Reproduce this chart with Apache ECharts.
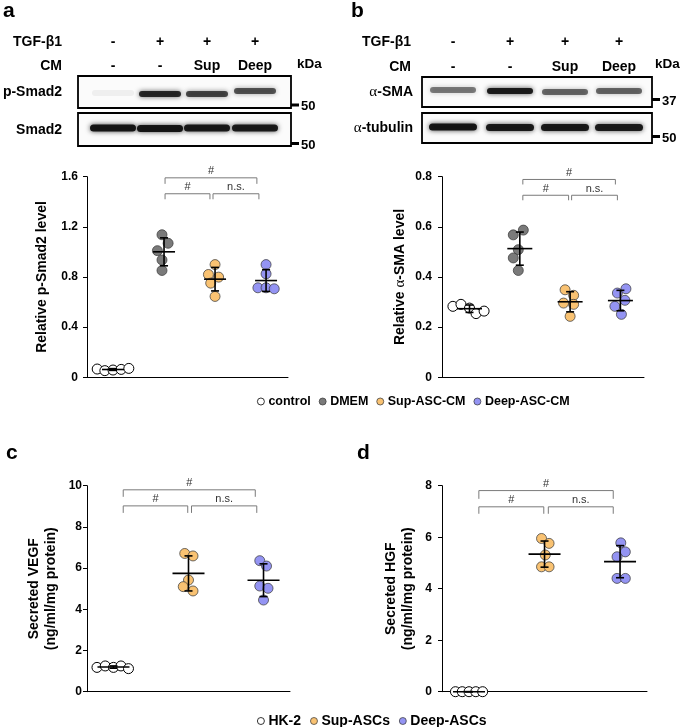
<!DOCTYPE html>
<html><head><meta charset="utf-8">
<script src="https://cdn.jsdelivr.net/npm/echarts@6/dist/echarts.min.js"></script>
<style>html,body{margin:0;padding:0;background:#fff}#c{width:685px;height:727px}</style>
</head><body><div id="c"></div>
<script>
// ---------- data ----------
const groupsAB = ['control', 'DMEM', 'Sup-ASC-CM', 'Deep-ASC-CM'];
const groupsCD = ['HK-2', 'Sup-ASCs', 'Deep-ASCs'];

// panel a: relative p-Smad2 level
const pSmad2Control = [0.066, 0.053, 0.058, 0.063, 0.071];
const pSmad2DMEM    = [1.137, 1.069, 1.010, 0.936, 0.852];
const pSmad2Sup     = [0.899, 0.820, 0.799, 0.751, 0.645];
const pSmad2Deep    = [0.899, 0.825, 0.714, 0.714, 0.706];
// panel b: relative α-SMA level
const sma_Control = [0.283, 0.291, 0.276, 0.254, 0.264];
const sma_DMEM    = [0.568, 0.587, 0.509, 0.476, 0.426];
const sma_Sup     = [0.349, 0.327, 0.296, 0.291, 0.243];
const sma_Deep    = [0.336, 0.353, 0.307, 0.283, 0.251];
// panel c: secreted VEGF
const vegfHK2  = [1.18, 1.25, 1.18, 1.25, 1.12];
const vegfSup  = [6.71, 6.59, 5.42, 5.10, 4.89];
const vegfDeep = [6.36, 6.10, 5.13, 5.02, 4.45];
// panel d: secreted HGF
const hgfHK2  = [0, 0, 0, 0, 0];
const hgfSup  = [5.95, 5.76, 5.31, 4.85, 4.85];
const hgfDeep = [5.78, 5.43, 5.24, 4.40, 4.40];

// horizontal jitter of each dot inside its group (category units)
const jitA = [[-0.31, -0.16, 0, 0.16, 0.31], [-0.04, 0.08, -0.13, -0.04, -0.04], [0, -0.13, 0.07, -0.085, 0], [0, 0, -0.16, 0, 0.16]];
const jitB = [[-0.33, -0.17, 0, 0.13, 0.29], [-0.13, 0.07, -0.03, -0.13, -0.03], [-0.1, 0.07, -0.13, 0.07, 0], [-0.06, 0.11, 0.09, -0.11, 0.02]];
const jitC = [[-0.22, -0.11, 0, 0.1, 0.2], [-0.05, 0.06, 0, -0.07, 0.06], [-0.05, 0.04, -0.05, 0.06, 0]];
const jitD = [[-0.18, -0.09, 0, 0.09, 0.18], [-0.04, 0.06, 0.01, -0.04, 0.06], [0.01, 0.07, -0.04, -0.04, 0.07]];

// y tick labels
const ticksA = [0, 0.4, 0.8, 1.2, 1.6];
const ticksB = [0, 0.2, 0.4, 0.6, 0.8];
const ticksC = [0, 2, 4, 6, 8, 10];
const ticksD = [0, 2, 4, 6, 8];

// significance brackets: [x from, x to, y bar, y end of legs]
const bracketsA = [[2.02, 3.82, 1.591, 1.543], [2.02, 2.90, 1.464, 1.420], [2.96, 3.86, 1.464, 1.420]];
const bracketsB = [[2.06, 3.90, 0.789, 0.769], [2.06, 2.97, 0.726, 0.706], [3.03, 3.94, 0.726, 0.706]];
const bracketsC = [[1.13, 2.89, 9.80, 9.46], [1.13, 1.99, 9.02, 8.68], [2.04, 2.91, 9.02, 8.68]];
const bracketsD = [[1.13, 2.91, 7.81, 7.49], [1.13, 1.99, 7.18, 6.91], [2.05, 2.91, 7.18, 6.91]];
const bracketLabels = ['#', '#', 'n.s.'];

// western blot band intensities (lanes 1-4)
const blotPSmad2 = [0.05, 0.85, 0.72, 0.66];
const blotSmad2  = [0.95, 0.95, 0.93, 0.92];
const blotSMA    = [0.5, 0.92, 0.58, 0.58];
const blotTub    = [0.95, 0.93, 0.93, 0.92];
const blotTGF = ['-', '+', '+', '+'];
const blotCM  = ['-', '-', 'Sup', 'Deep'];

// ---------- styles ----------
const FONT = 'Liberation Sans, Arial, sans-serif';
const SERIF = 'Liberation Serif, DejaVu Serif, serif';
const colorsAB = ['#ffffff', '#6f6f6f', '#f9bd66', '#8b8bf2'];
const colorsCD = ['#ffffff', '#f9bd66', '#8b8bf2'];

const chart = echarts.init(document.getElementById('c'), null, {renderer: 'canvas'});

function mean(a) { return a.reduce((s, v) => s + v, 0) / a.length; }
function sd(a) { const m = mean(a); return Math.sqrt(a.reduce((s, v) => s + (v - m) * (v - m), 0) / (a.length - 1)); }

const panels = [
  {grid: {left: 87, top: 176.7, width: 201, height: 200.6}, xr: [0.49, 4.43], ticks: ticksA, names: groupsAB, colors: colorsAB,
   groups: [pSmad2Control, pSmad2DMEM, pSmad2Sup, pSmad2Deep], jit: jitA, br: bracketsA, halfW: 11, margin: 9,
   yName: 'Relative p-Smad2 level', nameGap: 36},
  {grid: {left: 442, top: 176.7, width: 202, height: 200.6}, xr: [0.453, 4.469], ticks: ticksB, names: groupsAB, colors: colorsAB,
   groups: [sma_Control, sma_DMEM, sma_Sup, sma_Deep], jit: jitB, br: bracketsB, halfW: 12.5, margin: 10,
   yName: 'Relative {g|α}-SMA level', nameGap: 33},
  {grid: {left: 87, top: 485.7, width: 203, height: 206}, xr: [0.647, 3.353], ticks: ticksC, names: groupsCD, colors: colorsCD,
   groups: [vegfHK2, vegfSup, vegfDeep], jit: jitC, br: bracketsC, halfW: 16, margin: 5,
   yName: 'Secreted VEGF\n(ng/ml/mg protein)', nameGap: 27},
  {grid: {left: 442, top: 485.7, width: 205, height: 206}, xr: [0.642, 3.357], ticks: ticksD, names: groupsCD, colors: colorsCD,
   groups: [hgfHK2, hgfSup, hgfDeep], jit: jitD, br: bracketsD, halfW: 16, margin: 10,
   yName: 'Secreted HGF\n(ng/ml/mg protein)', nameGap: 25}
];

const grids = [], xAxes = [], yAxes = [], series = [];
panels.forEach((p, i) => {
  grids.push(Object.assign({containLabel: false}, p.grid));
  xAxes.push({type: 'value', gridIndex: i, min: p.xr[0], max: p.xr[1],
    axisLine: {show: true, onZero: false, lineStyle: {color: '#000', width: 1}},
    axisTick: {show: false}, axisLabel: {show: false}, splitLine: {show: false}});
  const t = p.ticks;
  yAxes.push({type: 'value', gridIndex: i, min: t[0], max: t[t.length - 1], interval: t[1] - t[0],
    axisLine: {show: true, lineStyle: {color: '#000', width: 1}},
    axisTick: {show: true, length: 4, lineStyle: {color: '#000'}},
    axisLabel: {color: '#000', fontFamily: FONT, fontWeight: 'bold', fontSize: 12, margin: p.margin,
      formatter: v => String(v)},
    splitLine: {show: false},
    name: p.yName, nameLocation: 'middle', nameGap: p.nameGap, nameRotate: 90,
    nameTextStyle: {color: '#000', fontFamily: FONT, fontWeight: 'bold', fontSize: 14, lineHeight: 17,
      rich: {g: {fontFamily: SERIF, fontWeight: 'normal', fontSize: 15, color: '#000'}}}});
  // dots
  p.groups.forEach((vals, g) => {
    series.push({type: 'scatter', name: p.names[g], xAxisIndex: i, yAxisIndex: i, z: 2,
      symbol: 'circle', symbolSize: 10,
      itemStyle: {color: p.colors[g], borderColor: g === 0 ? '#000' : '#3a3a3a', borderWidth: g === 0 ? 1 : 0.8, opacity: g === 0 ? 1 : 0.92},
      emphasis: {disabled: true},
      data: vals.map((v, k) => [g + 1 + p.jit[g][k], v])});
  });
  // mean ± SD
  const halfW = p.halfW;
  series.push({type: 'custom', xAxisIndex: i, yAxisIndex: i, z: 5, silent: true,
    data: p.groups.map((vals, g) => [g + 1, mean(vals), sd(vals)]),
    renderItem: function (params, api) {
      const x = api.value(0), m = api.value(1), s = api.value(2);
      const c = api.coord([x, m]), tp = api.coord([x, m + s]), bt = api.coord([x, m - s]);
      const st = {stroke: '#000', lineWidth: 1.6};
      return {type: 'group', children: [
        {type: 'line', shape: {x1: c[0] - halfW, y1: c[1], x2: c[0] + halfW, y2: c[1]}, style: st},
        {type: 'line', shape: {x1: c[0], y1: tp[1], x2: c[0], y2: bt[1]}, style: st},
        {type: 'line', shape: {x1: c[0] - 4, y1: tp[1], x2: c[0] + 4, y2: tp[1]}, style: st},
        {type: 'line', shape: {x1: c[0] - 4, y1: bt[1], x2: c[0] + 4, y2: bt[1]}, style: st}
      ]};
    }});
  // brackets
  series.push({type: 'custom', xAxisIndex: i, yAxisIndex: i, z: 4, silent: true,
    data: p.br,
    renderItem: function (params, api) {
      const x1 = api.value(0), x2 = api.value(1), y = api.value(2), y2 = api.value(3);
      const a = api.coord([x1, y2]), b = api.coord([x1, y]), c = api.coord([x2, y]), d = api.coord([x2, y2]);
      return {type: 'group', children: [
        {type: 'polyline', shape: {points: [a, b, c, d]}, style: {stroke: '#7a7a7a', lineWidth: 1, fill: null}},
        {type: 'text', style: {text: bracketLabels[params.dataIndex], x: (b[0] + c[0]) / 2, y: b[1] - 1,
          textAlign: 'center', textVerticalAlign: 'bottom', font: '11px ' + FONT, fill: '#333'}}
      ]};
    }});
});

// ---------- western blots (graphic) ----------
const graphic = [];
function txt(t, x, y, align, size, extra) {
  graphic.push(Object.assign({type: 'text', silent: true, style: {text: t, x: x, y: y, textAlign: align || 'center',
    textVerticalAlign: 'middle', font: 'bold ' + (size || 14) + 'px ' + FONT, fill: '#000'}}, extra || {}));
}
function blot(cfg) {
  txt(cfg.letter, cfg.letterX, cfg.letterY, 'left', 21);
  txt('TGF-β1', cfg.labelX, 42, 'right');
  txt('CM', cfg.labelX, cfg.cmY, 'right');
  cfg.lanes.forEach((lx, k) => {
    txt(blotTGF[k], lx, 42, 'center');
    txt(blotCM[k], lx, cfg.cmY, 'center');
  });
  txt('kDa', cfg.kdaX, 64, 'left', 13.5);
  cfg.rows.forEach(r => {
    graphic.push({type: 'rect', silent: true, shape: {x: cfg.boxX, y: r.y, width: cfg.boxW, height: r.h},
      style: {fill: '#fbfbfb', stroke: '#000', lineWidth: 1.8}, z: 10});
    graphic.push({type: 'text', silent: true, z: 10, style: {text: r.label, x: cfg.rowLabelX, y: r.y + r.h / 2 + 0.5,
      textAlign: 'right', textVerticalAlign: 'middle', font: 'bold 14px ' + FONT, fill: '#000',
      rich: {g: {fontFamily: SERIF, fontWeight: 'normal', fontSize: 15, fill: '#000'}}}});
    cfg.lanes.forEach((lx, k) => {
      const a = r.int[k];
      const bw = r.bw, bh = r.bh;
      graphic.push({type: 'rect', silent: true, z: 11, shape: {x: lx - bw / 2, y: r.bandY[k] - bh / 2, width: bw, height: bh, r: bh / 2},
        style: {fill: 'rgba(15,15,15,' + a + ')', shadowBlur: 5, shadowColor: 'rgba(15,15,15,' + (a * 0.85) + ')'}});
    });
    graphic.push({type: 'rect', silent: true, z: 10, shape: {x: cfg.boxX + cfg.boxW, y: r.markY - 1.5, width: 8, height: 3}, style: {fill: '#000'}});
    txt(r.mark, cfg.boxX + cfg.boxW + 10, r.markY + 1.5, 'left', 13);
  });
}
blot({letter: 'a', letterX: 3, letterY: 11, labelX: 62, cmY: 66, kdaX: 297, lanes: [113, 160, 207, 255],
  boxX: 78, boxW: 213, rowLabelX: 62,
  rows: [
    {y: 76, h: 32, label: 'p-Smad2', int: blotPSmad2, bandY: [93, 94, 94, 91], bw: 42, bh: 6, markY: 105, mark: '50'},
    {y: 113, h: 33, label: 'Smad2', int: blotSmad2, bandY: [128, 128.5, 128, 128], bw: 46, bh: 7, markY: 143.5, mark: '50'}
  ]});
blot({letter: 'b', letterX: 351, letterY: 11, labelX: 411, cmY: 67, kdaX: 655, lanes: [453, 510, 565, 619],
  boxX: 422, boxW: 230, rowLabelX: 413,
  rows: [
    {y: 77, h: 30, label: '{g|α}-SMA', int: blotSMA, bandY: [90, 91, 92, 91], bw: 46, bh: 6, markY: 99.5, mark: '37'},
    {y: 113, h: 30, label: '{g|α}-tubulin', int: blotTub, bandY: [127, 127.5, 127.5, 127.5], bw: 48, bh: 7, markY: 136.5, mark: '50'}
  ]});
txt('c', 6, 453, 'left', 21);
txt('d', 357, 453, 'left', 21);

function legendCfg(data, left, top, size, gap) {
  return {data: data, left: left, top: top, itemWidth: 7, itemHeight: 7, itemGap: gap, icon: 'circle', selectedMode: false,
    itemStyle: {borderWidth: 0.8},
    textStyle: {color: '#000', fontFamily: FONT, fontWeight: 'bold', fontSize: size, padding: [0, 0, 0, -1]}};
}

const option = {
  backgroundColor: '#fff',
  animation: false,
  grid: grids, xAxis: xAxes, yAxis: yAxes, series: series, graphic: graphic,
  legend: [
    legendCfg(groupsAB, 252, 390, 12.5, 8),
    legendCfg(groupsCD, 252, 709, 14, 9)
  ]
};
chart.setOption(option);
</script>
</body></html>
